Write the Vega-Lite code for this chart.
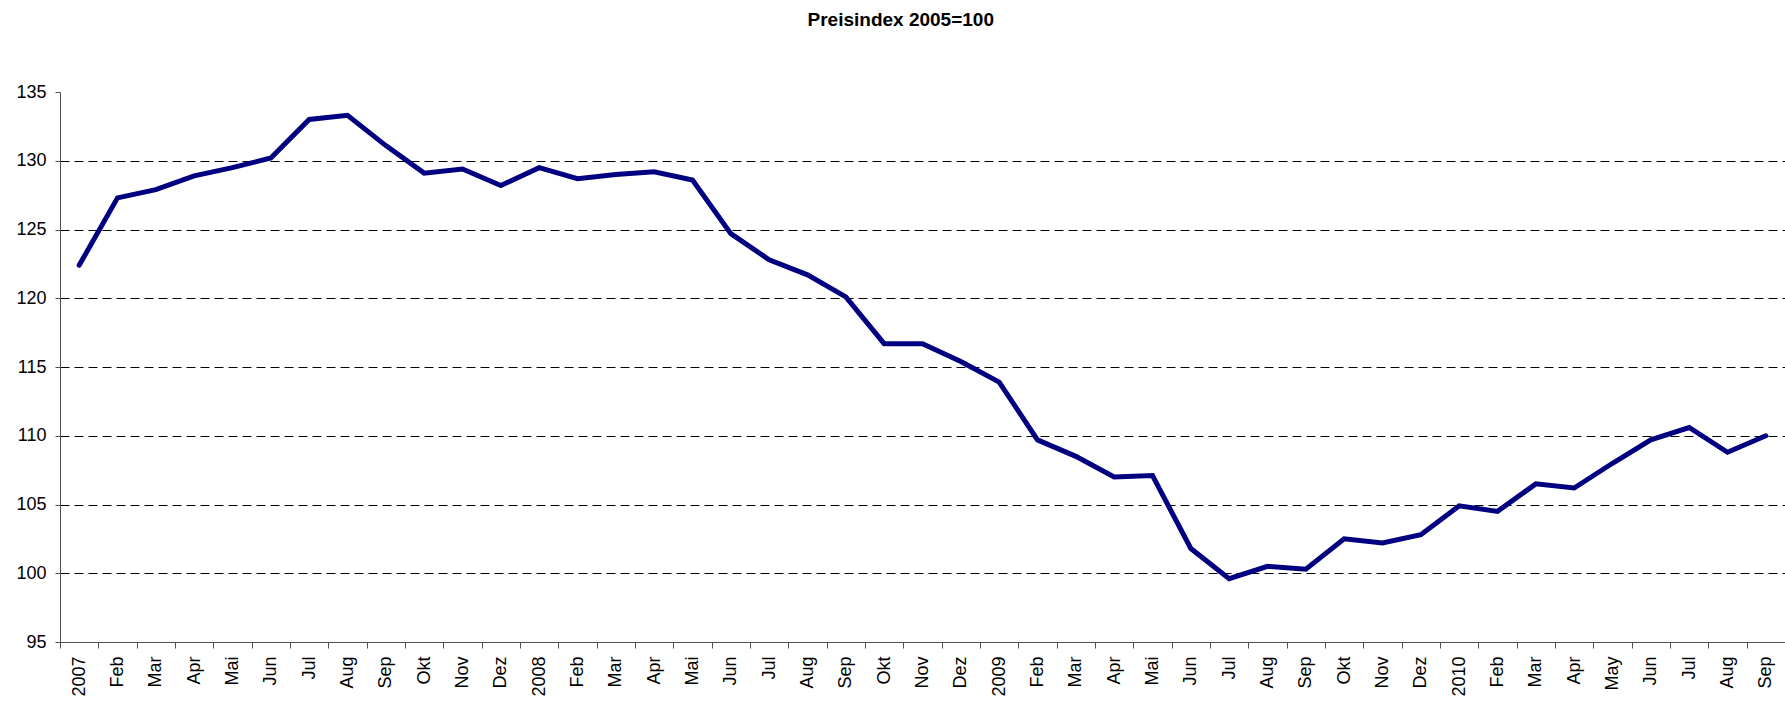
{
  "$schema": "https://vega.github.io/schema/vega-lite/v6.json",
  "autosize": {"type": "none"},
  "padding": {"left": 60, "top": 92, "right": 0, "bottom": 63},
  "width": 1725,
  "height": 550,
  "background": "white",
  "title": {
    "text": "Preisindex 2005=100",
    "font": "Liberation Sans",
    "fontSize": 19,
    "fontWeight": "bold",
    "color": "black",
    "anchor": "middle",
    "frame": "bounds",
    "offset": 53
  },
  "config": {
    "view": {"stroke": null},
    "axis": {
      "labelFont": "Liberation Sans",
      "labelFontSize": 18,
      "labelColor": "black",
      "domainColor": "#505050",
      "tickColor": "#505050",
      "domainWidth": 1,
      "tickWidth": 1
    }
  },
  "data": {
    "values": [
      {"period": "2007-01|2007", "index": 122.4},
      {"period": "2007-02|Feb", "index": 127.3},
      {"period": "2007-03|Mar", "index": 127.9},
      {"period": "2007-04|Apr", "index": 128.9},
      {"period": "2007-05|Mai", "index": 129.5},
      {"period": "2007-06|Jun", "index": 130.2},
      {"period": "2007-07|Jul", "index": 133.0},
      {"period": "2007-08|Aug", "index": 133.3},
      {"period": "2007-09|Sep", "index": 131.1},
      {"period": "2007-10|Okt", "index": 129.1},
      {"period": "2007-11|Nov", "index": 129.4},
      {"period": "2007-12|Dez", "index": 128.2},
      {"period": "2008-01|2008", "index": 129.5},
      {"period": "2008-02|Feb", "index": 128.7},
      {"period": "2008-03|Mar", "index": 129.0},
      {"period": "2008-04|Apr", "index": 129.2},
      {"period": "2008-05|Mai", "index": 128.6},
      {"period": "2008-06|Jun", "index": 124.7},
      {"period": "2008-07|Jul", "index": 122.8},
      {"period": "2008-08|Aug", "index": 121.7},
      {"period": "2008-09|Sep", "index": 120.1},
      {"period": "2008-10|Okt", "index": 116.7},
      {"period": "2008-11|Nov", "index": 116.7},
      {"period": "2008-12|Dez", "index": 115.4},
      {"period": "2009-01|2009", "index": 113.9},
      {"period": "2009-02|Feb", "index": 109.7},
      {"period": "2009-03|Mar", "index": 108.5},
      {"period": "2009-04|Apr", "index": 107.0},
      {"period": "2009-05|Mai", "index": 107.1},
      {"period": "2009-06|Jun", "index": 101.8},
      {"period": "2009-07|Jul", "index": 99.6},
      {"period": "2009-08|Aug", "index": 100.5},
      {"period": "2009-09|Sep", "index": 100.3},
      {"period": "2009-10|Okt", "index": 102.5},
      {"period": "2009-11|Nov", "index": 102.2},
      {"period": "2009-12|Dez", "index": 102.8},
      {"period": "2010-01|2010", "index": 104.9},
      {"period": "2010-02|Feb", "index": 104.5},
      {"period": "2010-03|Mar", "index": 106.5},
      {"period": "2010-04|Apr", "index": 106.2},
      {"period": "2010-05|May", "index": 108.0},
      {"period": "2010-06|Jun", "index": 109.7},
      {"period": "2010-07|Jul", "index": 110.6},
      {"period": "2010-08|Aug", "index": 108.8},
      {"period": "2010-09|Sep", "index": 110.0}
    ]
  },
  "mark": {"type": "line", "color": "#000080", "strokeWidth": 5, "strokeJoin": "miter", "strokeCap": "round"},
  "encoding": {
    "x": {
      "field": "period",
      "type": "ordinal",
      "sort": null,
      "bandPosition": 0.5,
      "scale": {"type": "band", "paddingInner": 0, "paddingOuter": 0},
      "axis": {
        "title": null,
        "labelExpr": "split(datum.value, '|')[1]",
        "labelAngle": -90,
        "labelAlign": "right",
        "labelBaseline": "middle",
        "tickBand": "extent",
        "tickSize": 6,
        "labelPadding": 8,
        "grid": false
      }
    },
    "y": {
      "field": "index",
      "type": "quantitative",
      "scale": {"domain": [95, 135], "nice": false, "zero": false},
      "axis": {
        "title": null,
        "values": [95, 100, 105, 110, 115, 120, 125, 130, 135],
        "format": "d",
        "tickSize": 5,
        "labelPadding": 9,
        "grid": true,
        "gridColor": "black",
        "gridDash": [9, 5],
        "gridWidth": 1,
        "gridOpacity": {"condition": {"test": "datum.value == 135 || datum.value == 95", "value": 0}, "value": 1}
      }
    }
  }
}
